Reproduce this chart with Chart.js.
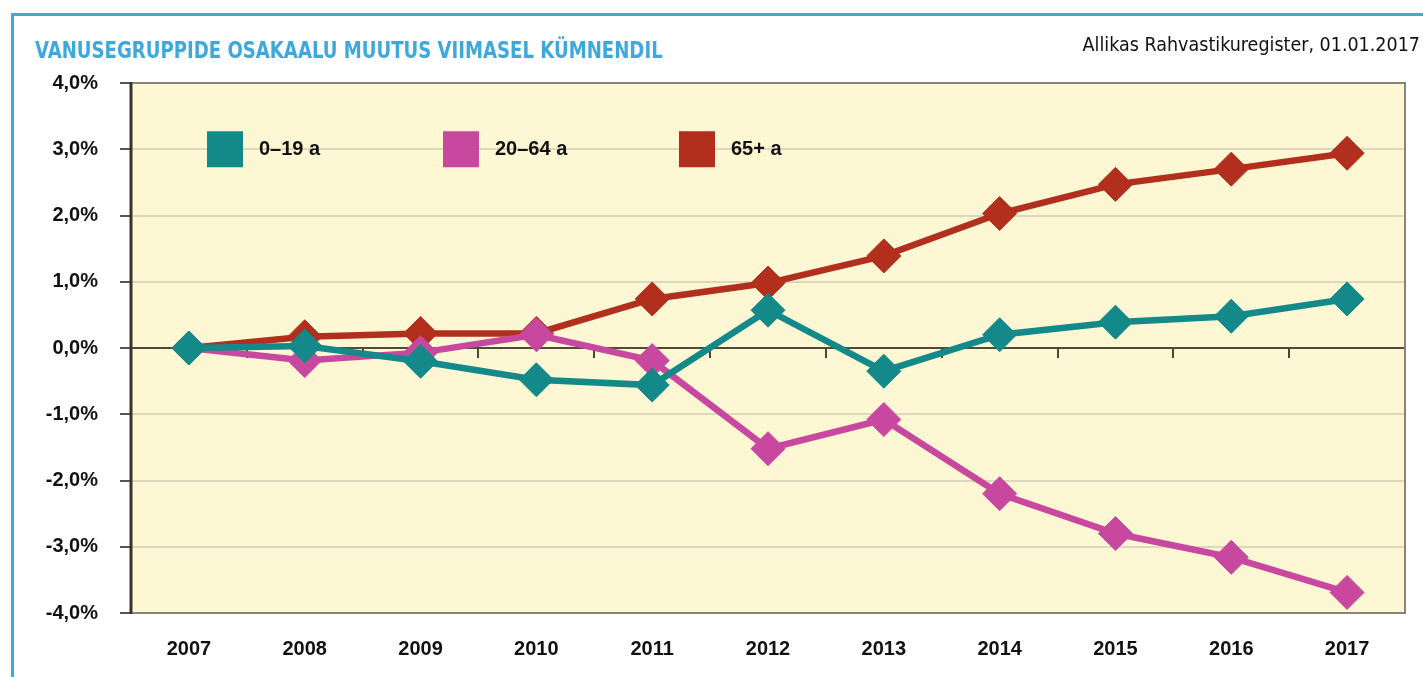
<!DOCTYPE html>
<html>
<head>
<meta charset="utf-8">
<script src="https://cdn.jsdelivr.net/npm/chart.js@4/dist/chart.umd.min.js"></script>
<style>
  html, body { margin: 0; padding: 0; background: #ffffff; }
  #wrap { position: relative; width: 1423px; height: 677px; overflow: hidden; }
  #frame { position: absolute; left: 11px; top: 13px; right: -10px; bottom: -10px;
           border-top: 3px solid #3fa9dc; border-left: 3px solid #3fa9dc; }
  #title { position: absolute; left: 35px; top: 36px; font-family: "Liberation Sans Narrow", "DejaVu Sans Condensed", "Liberation Sans", sans-serif;
           font-weight: bold; font-size: 23px; line-height: 28px; color: #3ea8dc; white-space: nowrap;
           transform-origin: 0 0; transform: scaleX(0.875); }
  #source { position: absolute; right: 3px; top: 33px; font-family: "Liberation Sans Narrow", "DejaVu Sans Condensed", "Liberation Sans", sans-serif;
            font-size: 19.5px; color: #111; white-space: nowrap; }
  canvas { position: absolute; left: 0; top: 0; }
</style>
</head>
<body>
<div id="wrap">
  <div id="frame"></div>
  <canvas id="c" width="1423" height="677"></canvas>
  <div id="title"></div>
  <div id="source">Allikas Rahvastikuregister, 01.01.2017</div>
</div>
<script>
const categories = ["2007","2008","2009","2010","2011","2012","2013","2014","2015","2016","2017"];
const seriesNames = ["0–19 a", "20–64 a", "65+ a"];
const age0to19 = [0.0, 0.03, -0.2, -0.48, -0.56, 0.57, -0.35, 0.2, 0.39, 0.48, 0.74];
const age20to64 = [0.0, -0.19, -0.07, 0.2, -0.19, -1.52, -1.08, -2.2, -2.8, -3.16, -3.69];
const age65plus = [0.0, 0.17, 0.22, 0.22, 0.74, 0.98, 1.39, 2.03, 2.47, 2.7, 2.94];
const yTicks = [-4, -3, -2, -1, 0, 1, 2, 3, 4];
const titleText = "VANUSEGRUPPIDE OSAKAALU MUUTUS VIIMASEL KÜMNENDIL";
const colors = ["#138a89", "#c9489f", "#b12f1c"];

document.getElementById('title').textContent = titleText;

const bold = '"Liberation Sans", Arial, sans-serif';

const bgPlugin = {
  id: 'plotBg',
  beforeDraw(chart) {
    const {ctx, chartArea: a} = chart;
    ctx.save();
    ctx.fillStyle = '#fdf7d3';
    ctx.fillRect(a.left, a.top, a.right - a.left, a.bottom - a.top);
    ctx.restore();
  },
  afterDatasetsDraw(chart) {
    const {ctx, chartArea: a} = chart;
    ctx.save();
    ctx.strokeStyle = '#8a8478';
    ctx.lineWidth = 2;
    ctx.beginPath();
    ctx.moveTo(a.left, a.top); ctx.lineTo(a.right, a.top); ctx.lineTo(a.right, a.bottom); ctx.lineTo(a.left, a.bottom);
    ctx.stroke();
    ctx.strokeStyle = '#3a352c';
    ctx.lineWidth = 3;
    ctx.beginPath();
    ctx.moveTo(a.left, a.top - 1); ctx.lineTo(a.left, a.bottom + 1);
    ctx.stroke();
    ctx.restore();
  }
};

const legendPlugin = {
  id: 'insideLegend',
  afterDraw(chart) {
    const {ctx, chartArea: a} = chart;
    const y = chart.scales.y.getPixelForValue(3);
    ctx.save();
    chart.data.datasets.forEach((ds, i) => {
      const x0 = a.left + 76 + i * 236;
      ctx.fillStyle = ds.borderColor;
      ctx.fillRect(x0, y - 18, 36, 36);
      ctx.fillStyle = '#111';
      ctx.font = 'bold 20px ' + bold;
      ctx.textBaseline = 'middle';
      ctx.textAlign = 'left';
      ctx.fillText(ds.label, x0 + 52, y);
    });
    ctx.restore();
  }
};

const makeDs = (label, data, color) => ({
  label, data,
  borderColor: color, backgroundColor: color,
  borderWidth: 6.5, tension: 0,
  pointStyle: 'rectRot', pointRadius: 17, pointBorderWidth: 1,
  pointBackgroundColor: color, pointBorderColor: color, pointHoverRadius: 17
});

new Chart(document.getElementById('c'), {
  type: 'line',
  data: {
    labels: categories,
    datasets: [
      makeDs(seriesNames[0], age0to19, colors[0]),
      makeDs(seriesNames[1], age20to64, colors[1]),
      makeDs(seriesNames[2], age65plus, colors[2])
    ]
  },
  options: {
    responsive: false,
    animation: false,
    events: [],
    layout: { padding: { left: 0, right: 18, top: 83, bottom: 0 } },
    plugins: {
      legend: { display: false },
      tooltip: { enabled: false },
      title: { display: false }
    },
    scales: {
      x: {
        type: 'category', offset: true,
        afterFit(scale) { scale.height = 64; },
        grid: { display: false, drawTicks: false },
        border: { display: false },
        ticks: { color: '#111', font: { family: bold, size: 20, weight: 'bold' }, padding: 24, maxRotation: 0 }
      },
      x0: {
        type: 'category', labels: categories, offset: true,
        position: { y: 0 },
        grid: { offset: true, drawOnChartArea: false, drawTicks: true, tickLength: 9, color: '#4a4536', lineWidth: 2 },
        border: { display: true, color: '#4f4a3a', width: 2 },
        ticks: { display: false }
      },
      y: {
        min: -4, max: 4,
        afterBuildTicks(scale) { scale.ticks = yTicks.map(v => ({ value: v })); },
        afterFit(scale) { scale.width = 131; },
        grid: {
          color: '#dcd7bd',
          lineWidth: 2, drawTicks: true, tickLength: 11,
          tickColor: '#555'
        },
        border: { display: false },
        ticks: {
          color: '#111', padding: 22,
          font: { family: bold, size: 20, weight: 'bold' },
          callback: v => v.toFixed(1).replace('.', ',') + '%'
        }
      }
    }
  },
  plugins: [bgPlugin, legendPlugin]
});
</script>
</body>
</html>
